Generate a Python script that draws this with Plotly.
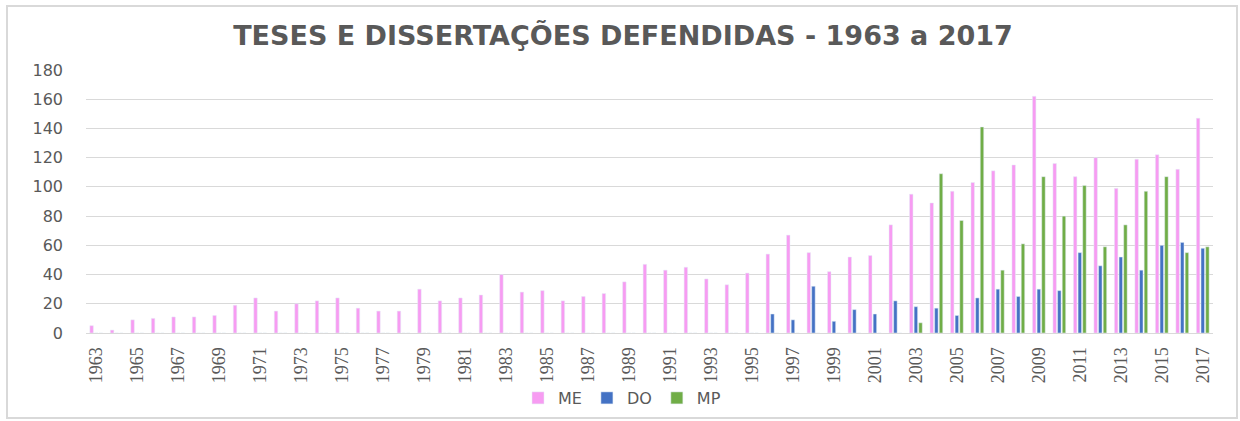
import plotly.graph_objects as go

years = [str(y) for y in range(1963, 2018)]

me = [5, 2, 9, 10, 11, 11, 12, 19, 24, 15, 20, 22, 24, 17, 15, 15, 30, 22, 24, 26,
      40, 28, 29, 22, 25, 27, 35, 47, 43, 45, 37, 33, 41, 54, 67, 55, 42, 52, 53, 74,
      95, 89, 97, 103, 111, 115, 162, 116, 107, 120, 99, 119, 122, 112, 147]

do = [0] * 33 + [13, 9, 32, 8, 16, 13, 22, 18, 17, 12, 24, 30, 25, 30, 29, 55, 46, 52, 43, 60, 62, 58]

mp = [0] * 40 + [7, 109, 77, 141, 43, 61, 107, 80, 101, 59, 74, 97, 107, 55, 59]

tick_years = years[::2]
y_ticks = [0, 20, 40, 60, 80, 100, 120, 140, 160, 180]

GRAY = "#595959"
FONT = "DejaVu Sans"

W, H = 1240, 421
L, R, T, B = 86, 27, 70, 88
PW, PH = W - L - R, H - T - B

fig = go.Figure()
fig.add_trace(go.Bar(name="ME", x=years, y=me, marker_color="#F79CF2"))
fig.add_trace(go.Bar(name="DO", x=years, y=do, marker_color="#4472C4"))
fig.add_trace(go.Bar(name="MP", x=years, y=mp, marker_color="#70AD47"))

fig.update_layout(
    width=W, height=H,
    margin=dict(l=L, r=R, t=T, b=B, autoexpand=False),
    paper_bgcolor="white", plot_bgcolor="white",
    barmode="group", bargap=0.32, bargroupgap=0.25,
    title=dict(text="<b>TESES E DISSERTAÇÕES DEFENDIDAS - 1963 a 2017</b>",
               xref="container", x=623 / W, xanchor="center", yref="container",
               y=1 - 36 / H, yanchor="middle",
               font=dict(family=FONT, size=27, color=GRAY)),
    font=dict(family=FONT, color=GRAY, size=15),
    legend=dict(orientation="h", xref="container", x=622 / W, xanchor="center",
                yref="container", y=1 - 398 / H, yanchor="middle",
                font=dict(size=16, color=GRAY), traceorder="normal"),
    xaxis=dict(type="category", tickmode="array", tickvals=tick_years, ticktext=tick_years,
               tickangle=-90, tickfont=dict(size=18, color=GRAY, family="Liberation Sans Narrow"),
               showline=True, linecolor="#D9D9D9", linewidth=1, showgrid=False,
               ticks="", ticklabelstandoff=6, automargin=False),
    yaxis=dict(range=[0, 180], tickmode="array", tickvals=y_ticks,
               tickfont=dict(size=16, color=GRAY), showgrid=True, gridcolor="#D9D9D9",
               gridwidth=1, zeroline=False, showline=False, ticks="", ticklabelstandoff=22,
               automargin=False),
    shapes=[dict(type="rect", xref="paper", yref="paper",
                 x0=(7 - L) / PW, x1=(1237 - L) / PW,
                 y0=(T + PH - 418) / PH, y1=(T + PH - 6) / PH,
                 line=dict(color="#D9D9D9", width=2), fillcolor="rgba(0,0,0,0)", layer="below")],
)

fig.write_html("out.html", config={"displayModeBar": False},
               post_script="document.body.style.margin='0';document.body.style.overflow='hidden';")
